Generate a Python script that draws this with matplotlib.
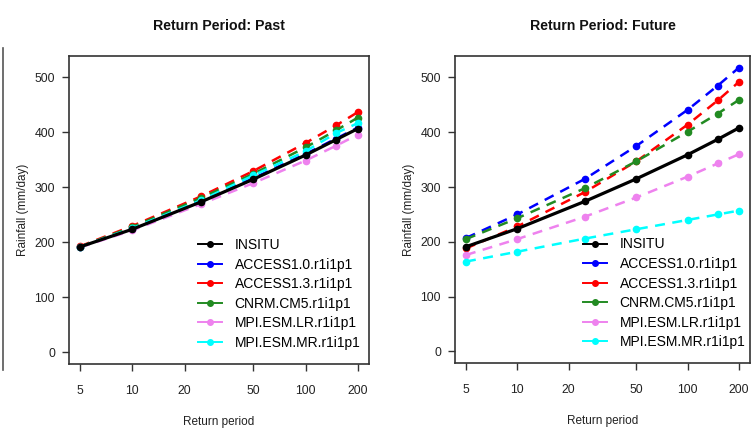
import numpy as np
import matplotlib
matplotlib.use("Agg")
import matplotlib.pyplot as plt
from matplotlib.lines import Line2D

plt.rcParams['font.family'] = ['Liberation Sans', 'DejaVu Sans']

return_periods = [5, 10, 25, 50, 100, 150, 200]
models = ["INSITU", "ACCESS1.0.r1i1p1", "ACCESS1.3.r1i1p1", "CNRM.CM5.r1i1p1",
          "MPI.ESM.LR.r1i1p1", "MPI.ESM.MR.r1i1p1"]
colors = ["#000000", "#0000FF", "#FF0000", "#228B22", "#EE82EE", "#00FFFF"]

past_insitu = [192, 224, 274, 315, 359, 387, 407]
past_access10 = [192, 225, 276, 317, 361, 389, 409]
past_access13 = [193, 230, 284, 330, 381, 413, 437]
past_cnrm = [192, 228, 281, 325, 373, 404, 427]
past_mpilr = [191, 222, 270, 308, 349, 376, 396]
past_mpimr = [192, 226, 277, 322, 366, 399, 417]

fut_insitu = [191, 224, 274, 315, 359, 387, 408]
fut_access10 = [207, 250, 315, 375, 441, 485, 518]
fut_access13 = [188, 228, 291, 347, 414, 458, 492]
fut_cnrm = [205, 243, 298, 347, 401, 434, 459]
fut_mpilr = [176, 205, 246, 281, 319, 343, 360]
fut_mpimr = [164, 182, 206, 223, 240, 250, 257]

past = [past_insitu, past_access10, past_access13, past_cnrm, past_mpilr, past_mpimr]
future = [fut_insitu, fut_access10, fut_access13, fut_cnrm, fut_mpilr, fut_mpimr]

xticks = [5, 10, 20, 50, 100, 200]
yticks = [0, 100, 200, 300, 400, 500]

fig = plt.figure(figsize=(7.55, 4.28), dpi=100)

def panel(rect, data, title, legx):
    ax = fig.add_axes(rect)
    for i, (vals, c) in enumerate(zip(data, colors)):
        if i == 0:
            continue
        ax.plot(return_periods, vals, color=c, lw=1.8, ls=(0, (4, 3)),
                marker='o', ms=4.5, zorder=2)
    ax.plot(return_periods, data[0], color=colors[0], lw=2.3, ls='-',
            marker='o', ms=4.5, zorder=3)
    ax.set_xscale('log')
    lo, hi = np.log10(5), np.log10(200)
    d = (hi - lo) * 0.04
    ax.set_xlim(10 ** (lo - d), 10 ** (hi + d))
    ax.set_ylim(-21, 539)
    ax.set_xticks(xticks)
    ax.set_xticklabels([str(t) for t in xticks])
    ax.xaxis.set_minor_locator(matplotlib.ticker.NullLocator())
    ax.set_yticks(yticks)
    ax.tick_params(axis='both', direction='out', length=5, width=1, color='#333333',
                   labelsize=8.8, labelcolor='#222222')
    ax.tick_params(axis='x', pad=10)
    ax.tick_params(axis='y', pad=5)
    for s in ax.spines.values():
        s.set_color('#333333')
        s.set_linewidth(1.2)
    ax.set_title(title, fontsize=10.2, fontweight='bold', pad=19, color='#111111')
    ax.set_xlabel("Return period", fontsize=8.5, labelpad=14, color='#222222')
    ax.set_ylabel("Rainfall (mm/day)", fontsize=8.5, labelpad=4, color='#222222')
    handles = [Line2D([0], [0], color=c, lw=1.4, marker='o', ms=4) for c in colors]
    ax.legend(handles, models, loc='upper left', bbox_to_anchor=(legx, 0.409),
              frameon=False, fontsize=10, handlelength=1.73, handletextpad=0.9,
              labelspacing=0.4, borderpad=0, borderaxespad=0)
    return ax

panel([69 / 755, 64 / 428, 300 / 755, 308 / 428], past, "Return Period: Past", 0.43)
panel([455 / 755, 65 / 428, 295 / 755, 307 / 428], future, "Return Period: Future", 0.434)

fig.add_artist(Line2D([2.5 / 755, 2.5 / 755], [1 - 48 / 428, 1 - 370 / 428],
                      transform=fig.transFigure, color='#555555', lw=1.2))

fig.savefig("out.png", dpi=100)
